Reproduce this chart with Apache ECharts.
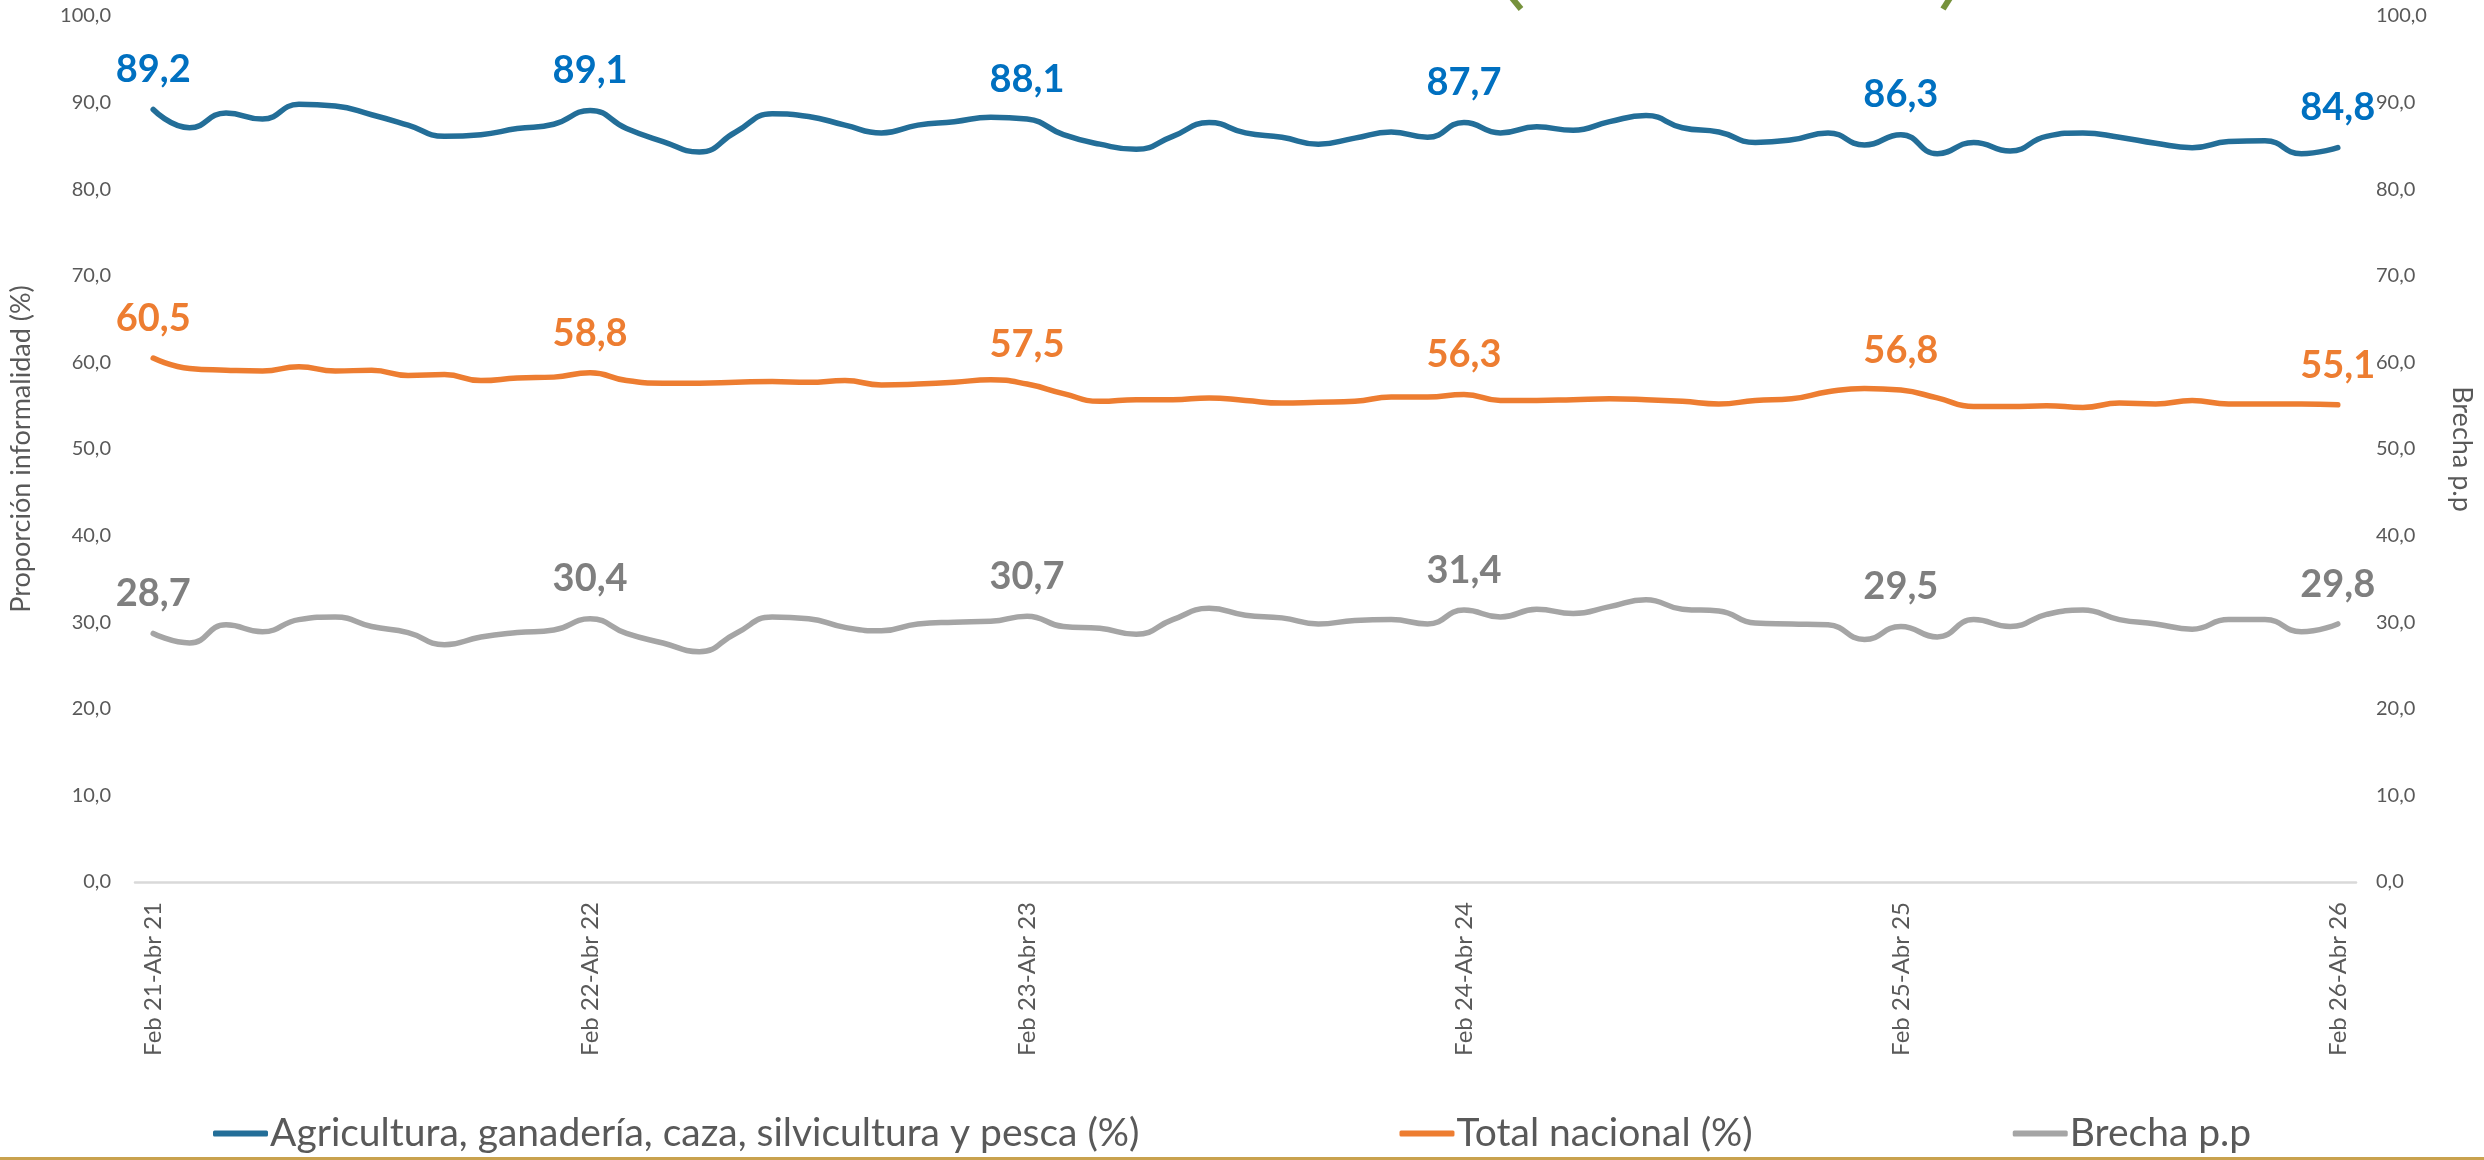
<!DOCTYPE html>
<html>
<head>
<meta charset="utf-8">
<script src="https://cdn.jsdelivr.net/npm/echarts@6/dist/echarts.min.js"></script>
<style>
html,body{margin:0;padding:0;background:#fff;}
#chart{width:2484px;height:1160px;}
</style>
</head>
<body>
<div id="chart"></div>
<script>
var categories = [
"Feb 21-Abr 21","Mar 21-May 21","Abr 21-Jun 21","May 21-Jul 21","Jun 21-Ago 21","Jul 21-Sep 21","Ago 21-Oct 21","Sep 21-Nov 21","Oct 21-Dic 21","Nov 21-Ene 22","Dic 21-Feb 22","Ene 22-Mar 22",
"Feb 22-Abr 22","Mar 22-May 22","Abr 22-Jun 22","May 22-Jul 22","Jun 22-Ago 22","Jul 22-Sep 22","Ago 22-Oct 22","Sep 22-Nov 22","Oct 22-Dic 22","Nov 22-Ene 23","Dic 22-Feb 23","Ene 23-Mar 23",
"Feb 23-Abr 23","Mar 23-May 23","Abr 23-Jun 23","May 23-Jul 23","Jun 23-Ago 23","Jul 23-Sep 23","Ago 23-Oct 23","Sep 23-Nov 23","Oct 23-Dic 23","Nov 23-Ene 24","Dic 23-Feb 24","Ene 24-Mar 24",
"Feb 24-Abr 24","Mar 24-May 24","Abr 24-Jun 24","May 24-Jul 24","Jun 24-Ago 24","Jul 24-Sep 24","Ago 24-Oct 24","Sep 24-Nov 24","Oct 24-Dic 24","Nov 24-Ene 25","Dic 24-Feb 25","Ene 25-Mar 25",
"Feb 25-Abr 25","Mar 25-May 25","Abr 25-Jun 25","May 25-Jul 25","Jun 25-Ago 25","Jul 25-Sep 25","Ago 25-Oct 25","Sep 25-Nov 25","Oct 25-Dic 25","Nov 25-Ene 26","Dic 25-Feb 26","Ene 26-Mar 26",
"Feb 26-Abr 26"
];
var agricultura = [
89.2,87.1,88.8,88.1,89.8,89.6,88.6,87.4,86.1,86.3,
87.0,87.5,89.1,87.0,85.5,84.3,86.6,88.7,88.4,87.4,
86.5,87.4,87.8,88.3,88.1,86.3,85.2,84.6,86.1,87.7,
86.5,86.0,85.2,85.9,86.6,86.0,87.7,86.5,87.2,86.8,
87.8,88.5,87.1,86.6,85.4,85.7,86.5,85.1,86.3,84.1,
85.4,84.4,86.1,86.5,86.0,85.3,84.8,85.5,85.6,84.1,
84.8
];
var totalNacional = [
60.5,59.3,59.1,59.0,59.5,59.0,59.1,58.5,58.6,57.9,
58.2,58.3,58.8,57.9,57.6,57.6,57.7,57.8,57.7,57.9,
57.4,57.5,57.7,58.0,57.5,56.4,55.5,55.7,55.7,55.9,
55.6,55.3,55.4,55.5,56.0,56.0,56.3,55.6,55.6,55.7,
55.8,55.7,55.5,55.2,55.6,55.8,56.6,57.0,56.8,55.9,
54.9,54.9,55.0,54.8,55.3,55.2,55.6,55.2,55.2,55.2,
55.1
];
var brecha = [
28.7,27.6,29.7,28.9,30.3,30.6,29.5,28.8,27.4,28.3,
28.8,29.1,30.4,28.7,27.6,26.6,28.7,30.6,30.4,29.4,
29.0,29.8,30.0,30.1,30.7,29.5,29.3,28.6,30.3,31.6,
30.8,30.5,29.8,30.2,30.3,29.8,31.4,30.6,31.5,31.0,
31.8,32.6,31.5,31.3,29.9,29.8,29.7,28.0,29.5,28.3,
30.3,29.5,30.9,31.4,30.3,29.8,29.2,30.3,30.3,28.9,
29.8
];
var seriesNames = ["Agricultura, ganadería, caza, silvicultura y pesca (%)","Total nacional (%)","Brecha p.p"];
var leftAxisName = "Proporción informalidad (%)";
var rightAxisName = "Brecha p.p";

var FONT = "Lato";
function fmt(v){ return Number(v).toFixed(1).replace('.', ','); }
function labelFmt(p){ return (p.dataIndex % 12 === 0) ? fmt(p.value) : ''; }

var chart = echarts.init(document.getElementById('chart'));
var yAxisCommon = {
  type: 'value', min: 0, max: 100, interval: 10,
  axisLine: {show: false}, axisTick: {show: false}, splitLine: {show: false},
  axisLabel: {color: '#595959', fontSize: 20, fontFamily: FONT, formatter: fmt},
  nameLocation: 'middle', nameTextStyle: {color: '#595959', fontSize: 27, fontFamily: FONT}
};
function mkSeries(name, data, color, labelColor, yIdx){
  return {
    name: name, type: 'line', data: data, yAxisIndex: yIdx,
    smooth: 0.5, symbol: 'circle', symbolSize: 1, showSymbol: true, showAllSymbol: true,
    lineStyle: {color: color, width: 5.5, cap: 'round'},
    itemStyle: {color: color, opacity: 0},
    label: {show: true, position: 'top', distance: 20, formatter: labelFmt,
      color: labelColor, fontSize: 38, fontWeight: 'bold', fontFamily: FONT, opacity: 1},
    labelLayout: {hideOverlap: false},
    emphasis: {disabled: true}
  };
}
chart.setOption({
  animation: false,
  backgroundColor: '#ffffff',
  grid: {left: 135, right: 128, top: 16, bottom: 278, containLabel: false},
  legend: {
    bottom: 2, left: 208, itemGap: 260, itemWidth: 55, itemHeight: 6,
    icon: 'roundRect',
    textStyle: {color: '#595959', fontSize: 39, fontFamily: FONT, padding: [0,0,0,-3]},
    data: seriesNames.map(function(n, i){ return {name: n, itemStyle: {opacity: 1, color: ['#236E98','#ED7D31','#A5A5A5'][i]}}; })
  },
  xAxis: {
    type: 'category', data: categories, boundaryGap: true,
    axisLine: {show: true, lineStyle: {color: '#D9D9D9', width: 2.5}},
    axisTick: {show: false},
    axisLabel: {rotate: 90, interval: 11, margin: 20, color: '#595959', fontSize: 24, fontFamily: FONT}
  },
  yAxis: [
    Object.assign({}, yAxisCommon, {position: 'left', name: leftAxisName, nameGap: 100, axisLabel: Object.assign({}, yAxisCommon.axisLabel, {margin: 24})}),
    Object.assign({}, yAxisCommon, {position: 'right', name: rightAxisName, nameGap: 92, nameRotate: -90, axisLabel: Object.assign({}, yAxisCommon.axisLabel, {margin: 20})})
  ],
  series: [
    mkSeries(seriesNames[0], agricultura, '#236E98', '#0070C0', 0),
    mkSeries(seriesNames[1], totalNacional, '#ED7D31', '#ED7D31', 0),
    mkSeries(seriesNames[2], brecha, '#A5A5A5', '#7F7F7F', 1)
  ],
  graphic: [
    {type: 'rect', left: 0, top: 1157, shape: {width: 2484, height: 3}, style: {fill: '#C9A24E'}, silent: true},
    {type: 'line', shape: {x1: 1512, y1: -2, x2: 1521, y2: 9}, style: {stroke: '#76923C', lineWidth: 6}, silent: true},
    {type: 'line', shape: {x1: 1950, y1: -2, x2: 1943, y2: 9}, style: {stroke: '#76923C', lineWidth: 6}, silent: true}
  ]
});
</script>
</body>
</html>
